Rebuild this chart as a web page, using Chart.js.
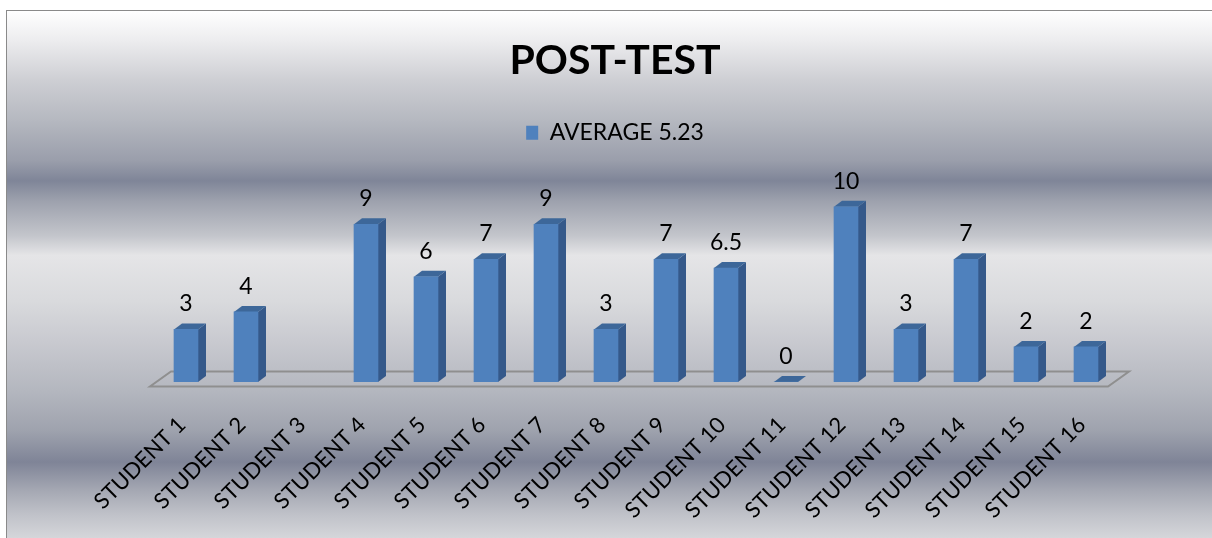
<!DOCTYPE html>
<html>
<head>
<meta charset="utf-8">
<script src="https://cdn.jsdelivr.net/npm/chart.js@4.4.1/dist/chart.umd.min.js"></script>
<style>
html,body{margin:0;padding:0;background:#ffffff;width:1212px;height:538px;overflow:hidden}
#frame{position:absolute;left:6px;top:10px;width:1206px;height:528px;box-sizing:border-box;
  border-left:1px solid #8a8a8a;border-top:1px solid #8a8a8a;
  background:linear-gradient(to bottom,
   #ffffff 0%, #ececee 5.7%, #cdced3 13.3%, #b5b8c0 20.8%, #9a9eab 28.4%, #7f8598 32.2%,
   #9da1ad 36%, #c3c5cb 42.6%, #e5e5e7 46.4%, #d9dadd 55%, #c9cad0 62.5%, #b4b7bf 72%,
   #9fa3ae 79.5%, #7f8497 85.6%, #a5a8b3 91%, #c0c2c9 95.6%, #d5d6da 100%);}
#wrap{position:absolute;left:0;top:0;width:1212px;height:538px}
</style>
</head>
<body>
<div id="frame"></div>
<div id="wrap"><canvas id="c"></canvas></div>
<script>
const chartTitle = 'POST-TEST';
const seriesLabel = 'AVERAGE 5.23';
const categories = ['STUDENT 1','STUDENT 2','STUDENT 3','STUDENT 4','STUDENT 5','STUDENT 6','STUDENT 7','STUDENT 8',
  'STUDENT 9','STUDENT 10','STUDENT 11','STUDENT 12','STUDENT 13','STUDENT 14','STUDENT 15','STUDENT 16'];
const scores = [3, 4, null, 9, 6, 7, 9, 3, 7, 6.5, 0, 10, 3, 7, 2, 2];

const FRONT = '#4f81bd', SIDE = '#35598a', TOP = '#3d6799';
const DX = 8, DY = 6;

const bar3d = {
  id: 'bar3d',
  beforeDatasetsDraw(chart) {
    const ctx = chart.ctx, xs = chart.scales.x, ys = chart.scales.y;
    const base = ys.getPixelForValue(0);
    const fy = base + 4.5, fl = xs.left - 6, fr = xs.right - 8;
    ctx.save();
    ctx.strokeStyle = '#8f8f8f';
    ctx.lineWidth = 2;
    ctx.beginPath();
    ctx.moveTo(fl, fy); ctx.lineTo(fr, fy); ctx.lineTo(fr + 21, fy - 15); ctx.lineTo(fl + 21, fy - 15); ctx.closePath();
    ctx.stroke();
    const meta = chart.getDatasetMeta(0);
    meta.data.forEach((el, i) => {
      if (scores[i] === null || scores[i] === undefined) return;
      const {x, y, base: b, width: w} = el.getProps(['x','y','base','width'], true);
      const r = x + w / 2, l = x - w / 2;
      ctx.fillStyle = SIDE;
      ctx.beginPath();
      ctx.moveTo(r, y); ctx.lineTo(r + DX, y - DY); ctx.lineTo(r + DX, b - DY); ctx.lineTo(r, b); ctx.closePath();
      ctx.fill();
      ctx.fillStyle = TOP;
      ctx.beginPath();
      ctx.moveTo(l, y); ctx.lineTo(l + DX, y - DY); ctx.lineTo(r + DX, y - DY); ctx.lineTo(r, y); ctx.closePath();
      ctx.fill();
    });
    ctx.restore();
  },
  afterDatasetsDraw(chart) {
    const ctx = chart.ctx;
    const meta = chart.getDatasetMeta(0);
    ctx.save();
    ctx.fillStyle = '#000000';
    ctx.font = '23px Lato';
    ctx.textAlign = 'center';
    ctx.textBaseline = 'alphabetic';
    meta.data.forEach((el, i) => {
      const v = scores[i];
      if (v === null || v === undefined) return;
      ctx.fillText(String(v), el.x, el.y - 18);
    });
    ctx.restore();
  }
};

new Chart(document.getElementById('c'), {
  type: 'bar',
  data: {
    labels: categories,
    datasets: [{
      label: seriesLabel,
      data: scores,
      backgroundColor: FRONT,
      borderWidth: 0,
      barThickness: 24
    }]
  },
  options: {
    responsive: true,
    maintainAspectRatio: false,
    animation: false,
    devicePixelRatio: 1,
    layout: { padding: { left: 18, right: 0, top: 10, bottom: 0 } },
    plugins: {
      title: {
        display: true, text: chartTitle, color: '#000000',
        font: { family: 'Lato', size: 41, weight: 'bold' },
        padding: { top: 26, bottom: 25 }
      },
      legend: {
        display: true,
        labels: {
          color: '#000000', boxWidth: 12, boxHeight: 14, padding: 11,
          font: { family: 'Lato', size: 23 }
        }
      },
      tooltip: { enabled: false }
    },
    scales: {
      x: {
        grid: { display: false, drawTicks: false },
        border: { display: false },
        ticks: {
          color: '#000000', font: { family: 'Lato', size: 22 },
          minRotation: 45, maxRotation: 45, autoSkip: false, padding: 30, labelOffset: -4
        },
        afterFit(s) { s.height = 156; }
      },
      y: {
        min: 0, max: 13,
        grid: { display: false, drawTicks: false },
        border: { display: false },
        ticks: { display: false },
        afterFit(s) { s.width = 138; }
      },
      y2: {
        position: 'right', min: 0, max: 13,
        grid: { display: false, drawTicks: false },
        border: { display: false },
        ticks: { display: false },
        afterFit(s) { s.width = 96; }
      }
    }
  },
  plugins: [bar3d]
});
</script>
</body>
</html>
